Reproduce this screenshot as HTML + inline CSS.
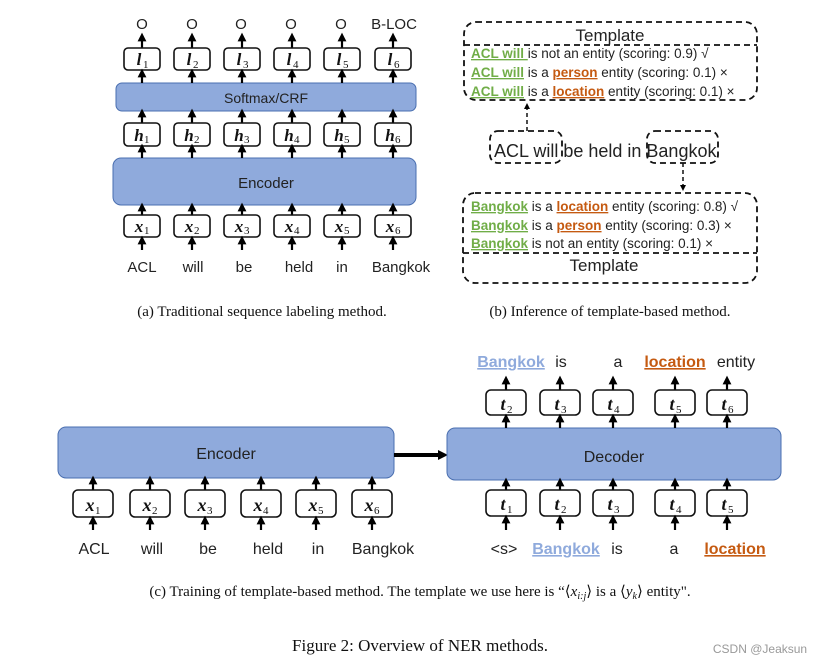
<!DOCTYPE html>
<html><head><meta charset="utf-8"><style>
body{margin:0;background:#fff}
svg{display:block}
.s{font-family:"Liberation Sans","DejaVu Sans",sans-serif;fill:#222}
.m{font-family:"Liberation Serif",serif;font-style:italic;font-weight:bold;fill:#111}
.sub{font-family:"Liberation Serif",serif;font-size:11px;fill:#111}
.cap{font-family:"Liberation Serif",serif;fill:#111}
.g{fill:#70ad47;font-weight:bold;text-decoration:underline}
.o{fill:#c55a11;font-weight:bold;text-decoration:underline}
.lb{fill:#8faadc;font-weight:bold;text-decoration:underline}
.bx{fill:#fff;stroke:#111;stroke-width:1.6}
.bl{fill:#8faadc;stroke:#4a6fb0;stroke-width:1}
.ar{stroke:#000;stroke-width:2.2;marker-end:url(#h)}
.d{fill:none;stroke:#111;stroke-width:1.8;stroke-dasharray:6 4}
</style></head><body>
<svg width="839" height="665" viewBox="0 0 839 665" xmlns="http://www.w3.org/2000/svg">
<defs><marker id="h" markerWidth="4" markerHeight="4" refX="2" refY="2" orient="auto" markerUnits="strokeWidth"><path d="M0,0L4,2L0,4z" fill="#000"/></marker>
<marker id="h2" markerWidth="6" markerHeight="6" refX="3" refY="3" orient="auto" markerUnits="userSpaceOnUse"><path d="M0,0L6,3L0,6z" fill="#000"/></marker></defs>

<g class="s" font-size="15" text-anchor="middle">
<text x="142" y="29">O</text><text x="192" y="29">O</text><text x="241" y="29">O</text><text x="291" y="29">O</text><text x="341" y="29">O</text><text x="394" y="29">B-LOC</text>
</g>
<rect class="bl" x="116" y="83" width="300" height="28" rx="6"/>
<rect class="bl" x="113" y="158" width="303" height="47" rx="8"/>
<text class="s" x="266" y="103" font-size="14" text-anchor="middle">Softmax/CRF</text>
<text class="s" x="266" y="188" font-size="15" text-anchor="middle">Encoder</text>
<g>
<g transform="translate(142,0)"><line class="ar" x1="0" y1="48" x2="0" y2="37"/><rect class="bx" x="-18" y="48" width="36" height="22" rx="4"/><line class="ar" x1="0" y1="83" x2="0" y2="73"/><line class="ar" x1="0" y1="123" x2="0" y2="113"/><rect class="bx" x="-18" y="123" width="36" height="23" rx="4"/><line class="ar" x1="0" y1="158" x2="0" y2="148"/><line class="ar" x1="0" y1="215" x2="0" y2="207"/><rect class="bx" x="-18" y="215" width="36" height="22" rx="4"/><line class="ar" x1="0" y1="250" x2="0" y2="240"/><text class="m" x="-3" y="65" font-size="17" text-anchor="middle">l</text><text class="sub" x="1" y="68">1</text><text class="m" x="-3" y="141" font-size="17" text-anchor="middle">h</text><text class="sub" x="2" y="143">1</text><text class="m" x="-3" y="232" font-size="17" text-anchor="middle">x</text><text class="sub" x="2" y="234">1</text></g>
<g transform="translate(192,0)"><line class="ar" x1="0" y1="48" x2="0" y2="37"/><rect class="bx" x="-18" y="48" width="36" height="22" rx="4"/><line class="ar" x1="0" y1="83" x2="0" y2="73"/><line class="ar" x1="0" y1="123" x2="0" y2="113"/><rect class="bx" x="-18" y="123" width="36" height="23" rx="4"/><line class="ar" x1="0" y1="158" x2="0" y2="148"/><line class="ar" x1="0" y1="215" x2="0" y2="207"/><rect class="bx" x="-18" y="215" width="36" height="22" rx="4"/><line class="ar" x1="0" y1="250" x2="0" y2="240"/><text class="m" x="-3" y="65" font-size="17" text-anchor="middle">l</text><text class="sub" x="1" y="68">2</text><text class="m" x="-3" y="141" font-size="17" text-anchor="middle">h</text><text class="sub" x="2" y="143">2</text><text class="m" x="-3" y="232" font-size="17" text-anchor="middle">x</text><text class="sub" x="2" y="234">2</text></g>
<g transform="translate(242,0)"><line class="ar" x1="0" y1="48" x2="0" y2="37"/><rect class="bx" x="-18" y="48" width="36" height="22" rx="4"/><line class="ar" x1="0" y1="83" x2="0" y2="73"/><line class="ar" x1="0" y1="123" x2="0" y2="113"/><rect class="bx" x="-18" y="123" width="36" height="23" rx="4"/><line class="ar" x1="0" y1="158" x2="0" y2="148"/><line class="ar" x1="0" y1="215" x2="0" y2="207"/><rect class="bx" x="-18" y="215" width="36" height="22" rx="4"/><line class="ar" x1="0" y1="250" x2="0" y2="240"/><text class="m" x="-3" y="65" font-size="17" text-anchor="middle">l</text><text class="sub" x="1" y="68">3</text><text class="m" x="-3" y="141" font-size="17" text-anchor="middle">h</text><text class="sub" x="2" y="143">3</text><text class="m" x="-3" y="232" font-size="17" text-anchor="middle">x</text><text class="sub" x="2" y="234">3</text></g>
<g transform="translate(292,0)"><line class="ar" x1="0" y1="48" x2="0" y2="37"/><rect class="bx" x="-18" y="48" width="36" height="22" rx="4"/><line class="ar" x1="0" y1="83" x2="0" y2="73"/><line class="ar" x1="0" y1="123" x2="0" y2="113"/><rect class="bx" x="-18" y="123" width="36" height="23" rx="4"/><line class="ar" x1="0" y1="158" x2="0" y2="148"/><line class="ar" x1="0" y1="215" x2="0" y2="207"/><rect class="bx" x="-18" y="215" width="36" height="22" rx="4"/><line class="ar" x1="0" y1="250" x2="0" y2="240"/><text class="m" x="-3" y="65" font-size="17" text-anchor="middle">l</text><text class="sub" x="1" y="68">4</text><text class="m" x="-3" y="141" font-size="17" text-anchor="middle">h</text><text class="sub" x="2" y="143">4</text><text class="m" x="-3" y="232" font-size="17" text-anchor="middle">x</text><text class="sub" x="2" y="234">4</text></g>
<g transform="translate(342,0)"><line class="ar" x1="0" y1="48" x2="0" y2="37"/><rect class="bx" x="-18" y="48" width="36" height="22" rx="4"/><line class="ar" x1="0" y1="83" x2="0" y2="73"/><line class="ar" x1="0" y1="123" x2="0" y2="113"/><rect class="bx" x="-18" y="123" width="36" height="23" rx="4"/><line class="ar" x1="0" y1="158" x2="0" y2="148"/><line class="ar" x1="0" y1="215" x2="0" y2="207"/><rect class="bx" x="-18" y="215" width="36" height="22" rx="4"/><line class="ar" x1="0" y1="250" x2="0" y2="240"/><text class="m" x="-3" y="65" font-size="17" text-anchor="middle">l</text><text class="sub" x="1" y="68">5</text><text class="m" x="-3" y="141" font-size="17" text-anchor="middle">h</text><text class="sub" x="2" y="143">5</text><text class="m" x="-3" y="232" font-size="17" text-anchor="middle">x</text><text class="sub" x="2" y="234">5</text></g>
<g transform="translate(393,0)"><line class="ar" x1="0" y1="48" x2="0" y2="37"/><rect class="bx" x="-18" y="48" width="36" height="22" rx="4"/><line class="ar" x1="0" y1="83" x2="0" y2="73"/><line class="ar" x1="0" y1="123" x2="0" y2="113"/><rect class="bx" x="-18" y="123" width="36" height="23" rx="4"/><line class="ar" x1="0" y1="158" x2="0" y2="148"/><line class="ar" x1="0" y1="215" x2="0" y2="207"/><rect class="bx" x="-18" y="215" width="36" height="22" rx="4"/><line class="ar" x1="0" y1="250" x2="0" y2="240"/><text class="m" x="-3" y="65" font-size="17" text-anchor="middle">l</text><text class="sub" x="1" y="68">6</text><text class="m" x="-3" y="141" font-size="17" text-anchor="middle">h</text><text class="sub" x="2" y="143">6</text><text class="m" x="-3" y="232" font-size="17" text-anchor="middle">x</text><text class="sub" x="2" y="234">6</text></g>
</g>
<g class="s" font-size="15" text-anchor="middle">
<text x="142" y="272">ACL</text><text x="193" y="272">will</text><text x="244" y="272">be</text><text x="299" y="272">held</text><text x="342" y="272">in</text><text x="401" y="272">Bangkok</text>
</g>
<text class="cap" x="262" y="316" font-size="15" text-anchor="middle">(a)  Traditional sequence labeling method.</text>

<rect class="d" x="464" y="22" width="293" height="78" rx="12"/>
<line class="d" x1="464" y1="45" x2="757" y2="45"/>
<text class="s" x="610" y="41" font-size="17" text-anchor="middle">Template</text>
<g class="s" font-size="13.5">
<text x="471" y="58"><tspan class="g">ACL will </tspan>is not an entity (scoring: 0.9) √</text>
<text x="471" y="77"><tspan class="g">ACL will</tspan> is a <tspan class="o">person</tspan> entity (scoring: 0.1) ×</text>
<text x="471" y="96"><tspan class="g">ACL will</tspan> is a <tspan class="o">location</tspan> entity (scoring: 0.1) ×</text>
</g>
<rect class="d" x="490" y="131" width="72" height="32" rx="8"/>
<rect class="d" x="647" y="131" width="71" height="32" rx="8"/>
<text class="s" x="494" y="157" font-size="18">ACL will be held in Bangkok</text>
<line x1="527" y1="131" x2="527" y2="106" stroke="#111" stroke-width="1.5" stroke-dasharray="4 3" marker-end="url(#h2)"/>
<line x1="683" y1="163" x2="683" y2="188" stroke="#111" stroke-width="1.5" stroke-dasharray="4 3" marker-end="url(#h2)"/>
<rect class="d" x="463" y="193" width="294" height="90" rx="12"/>
<line class="d" x1="463" y1="253" x2="757" y2="253"/>
<g class="s" font-size="13.5">
<text x="471" y="211"><tspan class="g">Bangkok</tspan> is a <tspan class="o">location</tspan> entity (scoring: 0.8) √</text>
<text x="471" y="230"><tspan class="g">Bangkok</tspan> is a <tspan class="o">person</tspan> entity (scoring: 0.3) ×</text>
<text x="471" y="248"><tspan class="g">Bangkok</tspan> is not an entity (scoring: 0.1) ×</text>
</g>
<text class="s" x="604" y="271" font-size="17" text-anchor="middle">Template</text>
<text class="cap" x="610" y="316" font-size="15" text-anchor="middle">(b)  Inference of template-based method.</text>

<rect class="bl" x="58" y="427" width="336" height="51" rx="8"/>
<text class="s" x="226" y="459" font-size="16" text-anchor="middle">Encoder</text>
<line x1="394" y1="455" x2="440" y2="455" stroke="#000" stroke-width="4"/><path d="M438,450L448,455L438,460z"/>
<rect class="bl" x="447" y="428" width="334" height="52" rx="8"/>
<text class="s" x="614" y="462" font-size="16" text-anchor="middle">Decoder</text>
<g>
<g transform="translate(93,0)"><line class="ar" x1="0" y1="490" x2="0" y2="480"/><rect class="bx" x="-20" y="490" width="40" height="27" rx="5"/><line class="ar" x1="0" y1="530" x2="0" y2="520"/><text class="m" x="-3" y="511" font-size="18" text-anchor="middle">x</text><text class="sub" x="2" y="514">1</text></g>
<g transform="translate(150,0)"><line class="ar" x1="0" y1="490" x2="0" y2="480"/><rect class="bx" x="-20" y="490" width="40" height="27" rx="5"/><line class="ar" x1="0" y1="530" x2="0" y2="520"/><text class="m" x="-3" y="511" font-size="18" text-anchor="middle">x</text><text class="sub" x="2" y="514">2</text></g>
<g transform="translate(205,0)"><line class="ar" x1="0" y1="490" x2="0" y2="480"/><rect class="bx" x="-20" y="490" width="40" height="27" rx="5"/><line class="ar" x1="0" y1="530" x2="0" y2="520"/><text class="m" x="-3" y="511" font-size="18" text-anchor="middle">x</text><text class="sub" x="2" y="514">3</text></g>
<g transform="translate(261,0)"><line class="ar" x1="0" y1="490" x2="0" y2="480"/><rect class="bx" x="-20" y="490" width="40" height="27" rx="5"/><line class="ar" x1="0" y1="530" x2="0" y2="520"/><text class="m" x="-3" y="511" font-size="18" text-anchor="middle">x</text><text class="sub" x="2" y="514">4</text></g>
<g transform="translate(316,0)"><line class="ar" x1="0" y1="490" x2="0" y2="480"/><rect class="bx" x="-20" y="490" width="40" height="27" rx="5"/><line class="ar" x1="0" y1="530" x2="0" y2="520"/><text class="m" x="-3" y="511" font-size="18" text-anchor="middle">x</text><text class="sub" x="2" y="514">5</text></g>
<g transform="translate(372,0)"><line class="ar" x1="0" y1="490" x2="0" y2="480"/><rect class="bx" x="-20" y="490" width="40" height="27" rx="5"/><line class="ar" x1="0" y1="530" x2="0" y2="520"/><text class="m" x="-3" y="511" font-size="18" text-anchor="middle">x</text><text class="sub" x="2" y="514">6</text></g>
</g>
<g class="s" font-size="16" text-anchor="middle">
<text x="94" y="554">ACL</text><text x="152" y="554">will</text><text x="208" y="554">be</text><text x="268" y="554">held</text><text x="318" y="554">in</text><text x="383" y="554">Bangkok</text>
</g>
<g>
<g transform="translate(506,0)"><line class="ar" x1="0" y1="390" x2="0" y2="380"/><rect class="bx" x="-20" y="390" width="40" height="25" rx="5"/><line class="ar" x1="0" y1="428" x2="0" y2="418"/><line class="ar" x1="0" y1="490" x2="0" y2="482"/><rect class="bx" x="-20" y="490" width="40" height="26" rx="5"/><line class="ar" x1="0" y1="530" x2="0" y2="519"/><text class="m" x="-3" y="410" font-size="18" text-anchor="middle">t</text><text class="sub" x="1" y="413">2</text><text class="m" x="-3" y="510" font-size="18" text-anchor="middle">t</text><text class="sub" x="1" y="513">1</text></g>
<g transform="translate(560,0)"><line class="ar" x1="0" y1="390" x2="0" y2="380"/><rect class="bx" x="-20" y="390" width="40" height="25" rx="5"/><line class="ar" x1="0" y1="428" x2="0" y2="418"/><line class="ar" x1="0" y1="490" x2="0" y2="482"/><rect class="bx" x="-20" y="490" width="40" height="26" rx="5"/><line class="ar" x1="0" y1="530" x2="0" y2="519"/><text class="m" x="-3" y="410" font-size="18" text-anchor="middle">t</text><text class="sub" x="1" y="413">3</text><text class="m" x="-3" y="510" font-size="18" text-anchor="middle">t</text><text class="sub" x="1" y="513">2</text></g>
<g transform="translate(613,0)"><line class="ar" x1="0" y1="390" x2="0" y2="380"/><rect class="bx" x="-20" y="390" width="40" height="25" rx="5"/><line class="ar" x1="0" y1="428" x2="0" y2="418"/><line class="ar" x1="0" y1="490" x2="0" y2="482"/><rect class="bx" x="-20" y="490" width="40" height="26" rx="5"/><line class="ar" x1="0" y1="530" x2="0" y2="519"/><text class="m" x="-3" y="410" font-size="18" text-anchor="middle">t</text><text class="sub" x="1" y="413">4</text><text class="m" x="-3" y="510" font-size="18" text-anchor="middle">t</text><text class="sub" x="1" y="513">3</text></g>
<g transform="translate(675,0)"><line class="ar" x1="0" y1="390" x2="0" y2="380"/><rect class="bx" x="-20" y="390" width="40" height="25" rx="5"/><line class="ar" x1="0" y1="428" x2="0" y2="418"/><line class="ar" x1="0" y1="490" x2="0" y2="482"/><rect class="bx" x="-20" y="490" width="40" height="26" rx="5"/><line class="ar" x1="0" y1="530" x2="0" y2="519"/><text class="m" x="-3" y="410" font-size="18" text-anchor="middle">t</text><text class="sub" x="1" y="413">5</text><text class="m" x="-3" y="510" font-size="18" text-anchor="middle">t</text><text class="sub" x="1" y="513">4</text></g>
<g transform="translate(727,0)"><line class="ar" x1="0" y1="390" x2="0" y2="380"/><rect class="bx" x="-20" y="390" width="40" height="25" rx="5"/><line class="ar" x1="0" y1="428" x2="0" y2="418"/><line class="ar" x1="0" y1="490" x2="0" y2="482"/><rect class="bx" x="-20" y="490" width="40" height="26" rx="5"/><line class="ar" x1="0" y1="530" x2="0" y2="519"/><text class="m" x="-3" y="410" font-size="18" text-anchor="middle">t</text><text class="sub" x="1" y="413">6</text><text class="m" x="-3" y="510" font-size="18" text-anchor="middle">t</text><text class="sub" x="1" y="513">5</text></g>
</g>
<g class="s" font-size="16" text-anchor="middle">
<text x="511" y="367" class="lb">Bangkok</text><text x="561" y="367">is</text><text x="618" y="367">a</text><text x="675" y="367" class="o">location</text><text x="736" y="367">entity</text>
<text x="504" y="554">&lt;s&gt;</text><text x="566" y="554" class="lb">Bangkok</text><text x="617" y="554">is</text><text x="674" y="554">a</text><text x="735" y="554" class="o">location</text>
</g>
<text class="cap" x="420" y="596" font-size="15" text-anchor="middle">(c)  Training of template-based method. The template we use here is “⟨<tspan font-style="italic">x</tspan><tspan font-size="10" font-style="italic" dy="3">i:j</tspan><tspan dy="-3">⟩ is a ⟨</tspan><tspan font-style="italic">y</tspan><tspan font-size="10" font-style="italic" dy="3">k</tspan><tspan dy="-3">⟩ entity".</tspan></text>
<text class="cap" x="420" y="651" font-size="17" text-anchor="middle">Figure 2: Overview of NER methods.</text>
<text x="760" y="653" font-family="Liberation Sans,sans-serif" font-size="12" fill="#999" text-anchor="middle">CSDN @Jeaksun</text>
</svg>
</body></html>
